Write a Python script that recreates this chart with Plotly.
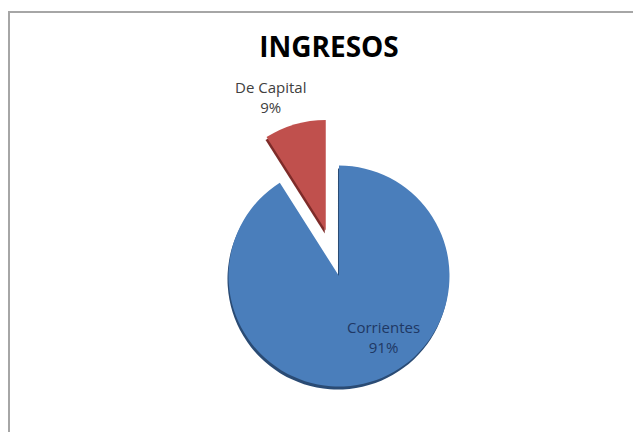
import plotly.graph_objects as go

# ---- data ----
labels = ["Corrientes", "De Capital"]
values = [91, 9]
colors = ["#4A7EBB", "#C0504D"]
shadow_colors = ["#2A4B74", "#7E2B29"]
pulls = [0, 0.43]
title_text = "INGRESOS"

W, H = 641, 432
OFF = 8  # page body margin offset
total = sum(values)
pcts = [round(v / total * 100) for v in values]

fig = go.Figure()

# shadow (3D rim) trace
fig.add_trace(go.Pie(
    labels=labels, values=values, sort=False, direction="clockwise", rotation=0,
    pull=pulls, marker=dict(colors=shadow_colors, line=dict(width=0)),
    textinfo="none", hoverinfo="skip", showlegend=False,
    domain=dict(x=[0.2683, 0.7613], y=[0.00694, 0.73843]),
))
# main trace
fig.add_trace(go.Pie(
    labels=labels, values=values, sort=False, direction="clockwise", rotation=0,
    pull=pulls, marker=dict(colors=colors, line=dict(width=0)),
    textinfo="none", hoverinfo="label+percent", showlegend=False,
    domain=dict(x=[0.2699, 0.7629], y=[0.01389, 0.74537]),
))

label_pos = [(383, 337, "#1F3864"), (270, 97, "#404040")]
for (lx, ly, lc), lab, p in zip(label_pos, labels, pcts):
    fig.add_annotation(
        x=(lx - OFF) / W, y=1 - (ly - OFF) / H, xref="paper", yref="paper",
        text=f"{lab}<br>{p}%", showarrow=False, xanchor="center", yanchor="middle",
        font=dict(family="Open Sans", size=15, color=lc), align="center",
    )

fig.add_shape(type="rect", xref="paper", yref="paper",
              x0=(9 - OFF) / W, x1=1.05, y0=-0.05, y1=1 - (12 - OFF) / H,
              line=dict(color="#A6A6A6", width=2), fillcolor="rgba(0,0,0,0)")

fig.update_layout(
    width=W, height=H,
    margin=dict(l=0, r=0, t=0, b=0),
    paper_bgcolor="white", plot_bgcolor="white",
    title=dict(text=f"<b>{title_text}</b>", x=(329 - OFF) / W, xanchor="center",
               y=1 - (47 - OFF) / H, yanchor="middle",
               font=dict(family="Open Sans", size=28, color="#000000")),
)

fig.write_html("out.html")
